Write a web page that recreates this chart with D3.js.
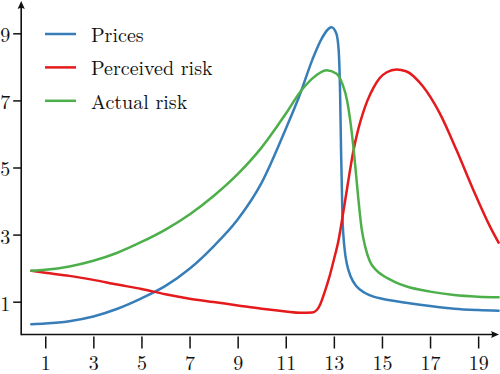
<!DOCTYPE html>
<html>
<head>
<meta charset="utf-8">
<script src="https://cdn.jsdelivr.net/npm/d3@7"></script>
<style>
  html, body { margin: 0; padding: 0; background: #fff; }
  svg { display: block; }
</style>
</head>
<body>
<svg></svg>
<script>
"use strict";

// [x, y] points
const prices = [
  [0.42, 0.33], [1, 0.35], [2, 0.42], [3, 0.56], [4, 0.79], [5, 1.1],
  [6, 1.47], [7, 1.98], [8, 2.65], [9, 3.45], [10, 4.55], [11, 6.15],
  [11.6, 7.2], [12.1, 8.2], [12.5, 8.85], [12.9, 9.18], [13.1, 9.0],
  [13.2, 8.5], [13.26, 7.2], [13.3, 5.5], [13.36, 3.5], [13.45, 2.55],
  [13.55, 2.1], [13.7, 1.75], [13.95, 1.45], [14.3, 1.26], [14.65, 1.15],
  [15, 1.09], [16, 0.97], [17, 0.87], [18, 0.79], [19, 0.75], [19.85, 0.73]
];
const perceivedRisk = [
  [0.42, 1.92], [1, 1.86], [2, 1.77], [3, 1.65], [4, 1.51], [5, 1.38],
  [6, 1.22], [7, 1.09], [8, 0.99], [9, 0.89], [10, 0.79], [11, 0.71],
  [11.6, 0.67], [12.1, 0.68], [12.3, 0.76], [12.45, 0.95], [12.6, 1.25],
  [12.8, 1.7], [13, 2.25], [13.2, 2.85], [13.4, 3.7], [13.6, 4.6],
  [13.8, 5.45], [14, 6.1], [14.2, 6.6], [14.4, 7.0], [14.65, 7.38],
  [14.9, 7.66], [15.2, 7.84], [15.6, 7.92], [16, 7.87], [16.7, 7.42],
  [17.4, 6.62], [18.1, 5.52], [18.8, 4.33], [19.5, 3.23], [19.85, 2.76]
];
const actualRisk = [
  [0.42, 1.92], [1, 1.95], [2, 2.05], [3, 2.22], [4, 2.46], [5, 2.78],
  [6, 3.15], [7, 3.6], [8, 4.15], [9, 4.8], [10, 5.6], [11, 6.6],
  [11.6, 7.25], [12.1, 7.65], [12.7, 7.9], [13.1, 7.8], [13.35, 7.5],
  [13.55, 7.0], [13.7, 6.3], [13.85, 5.35], [14, 4.2], [14.15, 3.2],
  [14.3, 2.65], [14.5, 2.2], [14.75, 1.95], [15, 1.8], [15.5, 1.6],
  [16, 1.46], [17, 1.3], [18, 1.2], [19, 1.15], [19.85, 1.13]
];

const seriesNames = ["Prices", "Perceived risk", "Actual risk"];
const seriesColors = ["#377eb8", "#e41a1c", "#4daf4a"];
const xTicks = [1, 3, 5, 7, 9, 11, 13, 15, 17, 19];
const yTicks = [1, 3, 5, 7, 9];

const width = 500;
const height = 374;
const originX = 21.2;
const originY = 334.5;
const serif = '"Latin Modern Roman", "Liberation Serif", serif';

const svg = d3.select("svg").attr("width", width).attr("height", height);

const xScale = d3.scaleLinear().domain([0, 20]).range([originX, originX + 24.05 * 20]);
const yScale = d3.scaleLinear().domain([0, 10]).range([335.25, 335.25 - 335.5]);

// axes
const xAxis = d3.axisBottom(xScale).tickValues(xTicks).tickSize(12).tickSizeOuter(0).tickPadding(7);
const yAxis = d3.axisLeft(yScale).tickValues(yTicks).tickSize(8).tickSizeOuter(0).tickPadding(3);

const gx = svg.append("g").attr("transform", `translate(0,${originY + 2})`).call(xAxis);
const gy = svg.append("g").attr("transform", `translate(${originX},0)`).call(yAxis);

[gx, gy].forEach((g) => {
  g.select(".domain").remove();
  g.selectAll(".tick line").attr("stroke", "#111").attr("stroke-width", 1.5);
  g.selectAll(".tick text")
    .attr("fill", "#111")
    .style("font-family", serif)
    .style("font-size", "20px");
});
gy.selectAll(".tick text").attr("dy", "0.42em");

// axis lines with arrow heads
svg.append("line")
  .attr("x1", originX).attr("x2", 496).attr("y1", originY).attr("y2", originY)
  .attr("stroke", "#111").attr("stroke-width", 1.6);
svg.append("line")
  .attr("x1", originX).attr("x2", originX).attr("y1", originY + 0.8).attr("y2", 4)
  .attr("stroke", "#111").attr("stroke-width", 1.6);
svg.append("path")
  .attr("d", `M499,${originY} L491,${originY - 3.6} Q493,${originY} 491,${originY + 3.6} Z`)
  .attr("fill", "#111");
svg.append("path")
  .attr("d", `M${originX},1 L${originX - 3.6},9 Q${originX},7 ${originX + 3.6},9 Z`)
  .attr("fill", "#111");

// curves
const line = d3.line()
  .x((d) => xScale(d[0]))
  .y((d) => yScale(d[1]))
  .curve(d3.curveMonotoneX);

[prices, perceivedRisk, actualRisk].forEach((data, i) => {
  svg.append("path")
    .datum(data)
    .attr("fill", "none")
    .attr("stroke", seriesColors[i])
    .attr("stroke-width", 2.5)
    .attr("stroke-linejoin", "round")
    .attr("stroke-linecap", "round")
    .attr("d", line);
});

// legend
const legend = svg.append("g").attr("transform", "translate(45,34)");
seriesNames.forEach((name, i) => {
  const row = legend.append("g").attr("transform", `translate(0,${i * 33.4})`);
  row.append("line")
    .attr("x1", 0).attr("x2", 31).attr("y1", 0).attr("y2", 0)
    .attr("stroke", seriesColors[i]).attr("stroke-width", 2.5);
  row.append("text")
    .attr("x", 46).attr("y", 8)
    .attr("fill", "#111")
    .style("font-family", serif)
    .style("font-size", "20px")
    .text(name);
});
</script>
</body>
</html>
